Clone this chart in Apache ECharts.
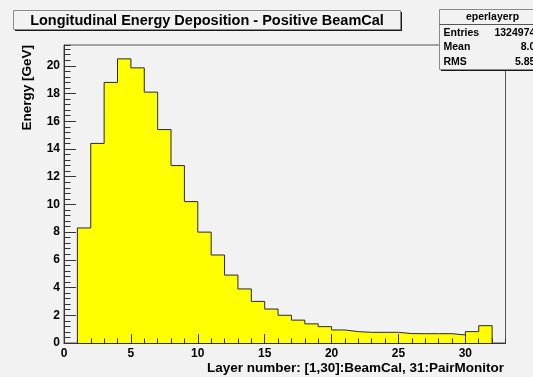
<!DOCTYPE html>
<html>
<head>
<meta charset="utf-8">
<script src="https://cdn.jsdelivr.net/npm/echarts@6/dist/echarts.min.js"></script>
<style>
  html, body { margin: 0; padding: 0; background: #f2f2f2; }
  #chart { width: 533px; height: 377px; }
</style>
</head>
<body>
<div id="chart"></div>
<script>
// Energy deposited per layer: layers 1-30 are BeamCal, 31 is the PairMonitor
const layers = [1, 2, 3, 4, 5, 6, 7, 8, 9, 10, 11, 12, 13, 14, 15, 16,
                17, 18, 19, 20, 21, 22, 23, 24, 25, 26, 27, 28, 29, 30, 31];
const energy = [8.3, 14.4, 18.8, 20.5, 19.85, 18.1, 15.4, 12.8, 10.2, 8.0, 6.35,
                4.9, 3.9, 3.0, 2.45, 2.0, 1.65, 1.38, 1.18, 0.94, 0.82, 0.77,
                0.77, 0.77, 0.68, 0.67, 0.67, 0.67, 0.58, 0.82, 1.25];

const histName = 'eperlayerp';
const statLabels = ['Entries', 'Mean', 'RMS'];
const statValues = ['132497475', '8.013', '5.8594'];

const titleText = 'Longitudinal Energy Deposition - Positive BeamCal';
const xTitle = 'Layer number: [1,30]:BeamCal, 31:PairMonitor';
const yTitle = 'Energy [GeV]';

const xMin = 0, xMax = 33, xMajor = 5, xMinor = 1;
const yMin = 0, yMax = 21.5, yMajor = 2, yMinor = 0.4;

// Histogram outline: each bin spans [layer, layer + 1)
const last = layers.length - 1;
const stepData = [[layers[0], 0]]
  .concat(layers.map((l, i) => [l, energy[i]]))
  .concat([[layers[last] + 1, energy[last]], [layers[last] + 1, 0]]);

const FONT = '"Liberation Sans", Arial, Helvetica, sans-serif';
const BG = '#f2f2f2';
const AXIS = '#333';

function majorX(extra) {
  return Object.assign({
    type: 'value', min: xMin, max: xMax, position: 'bottom', z: 10,
    splitLine: { show: false }
  }, extra);
}
function majorY(extra) {
  return Object.assign({
    type: 'value', min: yMin, max: yMax, position: 'left', z: 10,
    splitLine: { show: false }
  }, extra);
}

const chart = echarts.init(document.getElementById('chart'), null, { renderer: 'canvas' });

chart.setOption({
  animation: false,
  backgroundColor: BG,
  grid: {
    left: 64, top: 45, right: 27.5, bottom: 34,
    show: true, borderColor: '#555', borderWidth: 1, backgroundColor: BG
  },
  xAxis: [
    majorX({
      interval: xMajor,
      axisLine: { show: true, lineStyle: { color: AXIS, width: 1 } },
      axisTick: { show: true, inside: true, length: 9, lineStyle: { color: AXIS } },
      axisLabel: {
        show: true, margin: 5, showMaxLabel: false,
        color: '#000', fontFamily: FONT, fontWeight: 'bold', fontSize: 12
      }
    }),
    majorX({
      interval: xMinor,
      axisLine: { show: false },
      axisTick: { show: true, inside: true, length: 4.5, lineStyle: { color: AXIS } },
      axisLabel: { show: false }
    })
  ],
  yAxis: [
    majorY({
      interval: yMajor,
      axisLine: { show: true, lineStyle: { color: AXIS, width: 1 } },
      axisTick: { show: true, inside: true, length: 12, lineStyle: { color: AXIS } },
      axisLabel: {
        show: true, margin: 4, showMaxLabel: false,
        color: '#000', fontFamily: FONT, fontWeight: 'bold', fontSize: 12
      }
    }),
    majorY({
      interval: yMinor,
      axisLine: { show: false },
      axisTick: { show: true, inside: true, length: 6.5, lineStyle: { color: AXIS } },
      axisLabel: { show: false }
    })
  ],
  series: [{
    type: 'line',
    xAxisIndex: 0,
    yAxisIndex: 0,
    step: 'end',
    data: stepData,
    symbol: 'none',
    lineStyle: { color: '#2a2a2a', width: 1 },
    areaStyle: { color: '#ffff00', opacity: 1 },
    z: 2
  }],
  graphic: [
    // title box with drop shadow
    { type: 'rect', shape: { x: 15, y: 12, width: 387, height: 19 }, style: { fill: '#1a1a1a' }, z: 20 },
    { type: 'rect', shape: { x: 13.5, y: 10.5, width: 387, height: 19 },
      style: { fill: BG, stroke: '#8a8a8a', lineWidth: 1 }, z: 21 },
    { type: 'text', x: 207, y: 20.5, z: 22,
      style: { text: titleText, align: 'center', verticalAlign: 'middle',
               fill: '#000', font: 'bold 14.5px ' + FONT } },

    // statistics box with drop shadow
    { type: 'rect', shape: { x: 441, y: 11, width: 106, height: 60 }, style: { fill: '#1a1a1a' }, z: 20 },
    { type: 'rect', shape: { x: 439.5, y: 9.5, width: 106, height: 60 },
      style: { fill: BG, stroke: '#8a8a8a', lineWidth: 1 }, z: 21 },
    { type: 'line', shape: { x1: 439.5, y1: 24.5, x2: 545.5, y2: 24.5 },
      style: { stroke: '#555', lineWidth: 1 }, z: 22 },
    { type: 'text', x: 492.5, y: 17, z: 22,
      style: { text: histName, align: 'center', verticalAlign: 'middle',
               fill: '#000', font: 'bold 10.5px ' + FONT } },
    ...statLabels.map((t, i) => ({
      type: 'text', x: 443.5, y: 33 + i * 14.5, z: 22,
      style: { text: t, align: 'left', verticalAlign: 'middle',
               fill: '#000', font: 'bold 10.5px ' + FONT }
    })),
    ...statValues.map((t, i) => ({
      type: 'text', x: 547, y: 33 + i * 14.5, z: 22,
      style: { text: t, align: 'right', verticalAlign: 'middle',
               fill: '#000', font: 'bold 10.5px ' + FONT }
    })),

    // axis titles
    { type: 'text', x: 27, y: 45, rotation: Math.PI / 2, z: 22,
      style: { text: yTitle, align: 'right', verticalAlign: 'middle',
               fill: '#000', font: 'bold 13.5px ' + FONT } },
    { type: 'text', x: 504, y: 368, z: 22,
      style: { text: xTitle, align: 'right', verticalAlign: 'middle',
               fill: '#000', font: 'bold 13.5px ' + FONT } }
  ]
});
</script>
</body>
</html>
